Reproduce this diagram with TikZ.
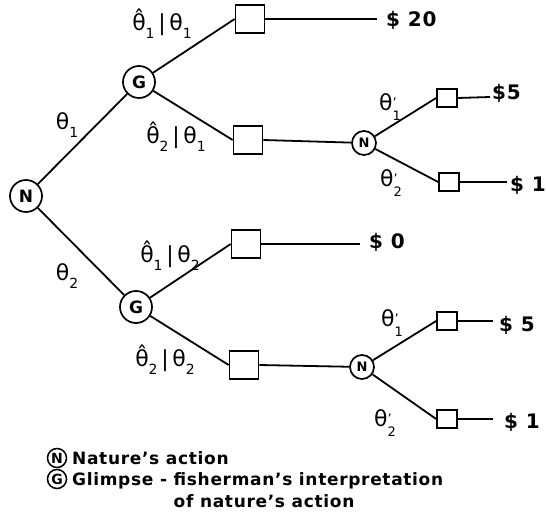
\documentclass[tikz,border=0pt]{standalone}
\usepackage{fontspec}
\setmainfont{DejaVu Sans}[LetterSpace=4]
\newfontfamily\grk{DejaVu Sans}
\newcommand{\tht}{{\grk θ}}
\newcommand{\thh}{{\grk θ̂}}
\newcommand{\sbs}[1]{\raisebox{-0.35em}{\fontsize{14}{14}\selectfont #1}}
\newcommand{\prs}[1]{\raisebox{-0.42em}{\fontsize{13}{12}\selectfont\shortstack[l]{'\\#1}}}
\begin{document}
\begin{tikzpicture}[x=1pt,y=-1pt,
  ln/.style={line width=1.8pt},
  circ/.style={draw,circle,line width=1.7pt,inner sep=0pt,minimum size=32pt,font=\fontsize{17}{17}\selectfont\bfseries},
  smcirc/.style={draw,circle,line width=1.7pt,inner sep=0pt,minimum size=24pt,font=\fontsize{13}{13}\selectfont\bfseries},
  bigsq/.style={draw,rectangle,line width=1.7pt,minimum width=29pt,minimum height=28pt,inner sep=0pt},
  smsq/.style={draw,rectangle,line width=1.7pt,minimum width=20pt,minimum height=18pt,inner sep=0pt},
  lbl/.style={font=\fontsize{22}{22}\selectfont,inner sep=0pt},
  pay/.style={font=\fontsize{20}{20}\selectfont\bfseries,anchor=west,inner sep=0pt},
  leg/.style={font=\fontsize{17}{17}\selectfont\bfseries,anchor=base west,inner sep=0pt},
  legc/.style={draw,circle,line width=1.5pt,inner sep=0pt,minimum size=19pt,font=\fontsize{14}{14}\selectfont\bfseries}]
\useasboundingbox (0,0) rectangle (546,532);
% nodes
\node[circ] (N0) at (26,196) {N};
\node[circ] (G1) at (139,82) {G};
\node[circ] (G2) at (136,307) {G};
\node[bigsq] (S1) at (250,19) {};
\node[bigsq] (S2) at (248,140) {};
\node[bigsq] (S3) at (246,244) {};
\node[bigsq] (S4) at (244,365) {};
\node[smcirc] (Na) at (364,143) {N};
\node[smcirc] (Nb) at (362,367) {N};
\node[smsq] (s5) at (447,98) {};
\node[smsq] (s6) at (449,182) {};
\node[smsq] (s7) at (447,321) {};
\node[smsq] (s8) at (447,419) {};
\coordinate (e1) at (377,19);
\coordinate (e3) at (360,244);
\coordinate (e5) at (490,97);
\coordinate (e6) at (507,182);
\coordinate (e7) at (493,321);
\coordinate (e8) at (493,419);
% edges
\draw[ln] (N0) -- (G1);
\draw[ln] (N0) -- (G2);
\draw[ln] (G1) -- (S1.west);
\draw[ln] (G1) -- (S2.west);
\draw[ln] (G2) -- (S3.west);
\draw[ln] (G2) -- (S4.west);
\draw[ln] (S1.east) -- (e1);
\draw[ln] (S3.east) -- (e3);
\draw[ln] (S2.east) -- (Na);
\draw[ln] (S4.east) -- (Nb);
\draw[ln] (Na) -- (s5.west);
\draw[ln] (Na) -- (s6.west);
\draw[ln] (Nb) -- (s7.west);
\draw[ln] (Nb) -- (s8.west);
\draw[ln] (s5.east) -- (e5);
\draw[ln] (s6.east) -- (e6);
\draw[ln] (s7.east) -- (e7);
\draw[ln] (s8.east) -- (e8);
% payoffs
\node[pay] (p1) at (386,20) {\$ 20};
\node[pay] (p3) at (369,242) {\$ 0};
\node[pay] (p5) at (492,93) {\$5};
\node[pay] (p6) at (510,185) {\$ 1};
\node[pay] (p7) at (499,325) {\$ 5};
\node[pay] (p8) at (504,422) {\$ 1};
% labels
\node[lbl] (l1) at (67,125) {\tht\sbs{1}};
\node[lbl] (l2) at (67,276) {\tht\sbs{2}};
\node[lbl] (l3) at (162,24) {\thh\sbs{1}\,|\,\tht\sbs{1}};
\node[lbl] (l4) at (176,137) {\thh\sbs{2}\,|\,\tht\sbs{1}};
\node[lbl] (l5) at (170,256) {\thh\sbs{1}\,|\,\tht\sbs{2}};
\node[lbl] (l6) at (165,360) {\thh\sbs{2}\,|\,\tht\sbs{2}};
\node[lbl] (l7) at (390,107) {\tht\prs{1}};
\node[lbl] (l8) at (391,183) {\tht\prs{2}};
\node[lbl] (l9) at (392,323) {\tht\prs{1}};
\node[lbl] (l10) at (385,423) {\tht\prs{2}};
% legend
\node[legc] (LN) at (57,458) {N};
\node[legc] (LG) at (57,479) {G};
\node[leg] (t1) at (72,464) {Nature's action};
\node[leg] (t2) at (72,485) {Glimpse - fisherman's interpretation};
\node[leg] (t3) at (72,507) {\phantom{Glimpse - }of nature's action};
\end{tikzpicture}
\end{document}
